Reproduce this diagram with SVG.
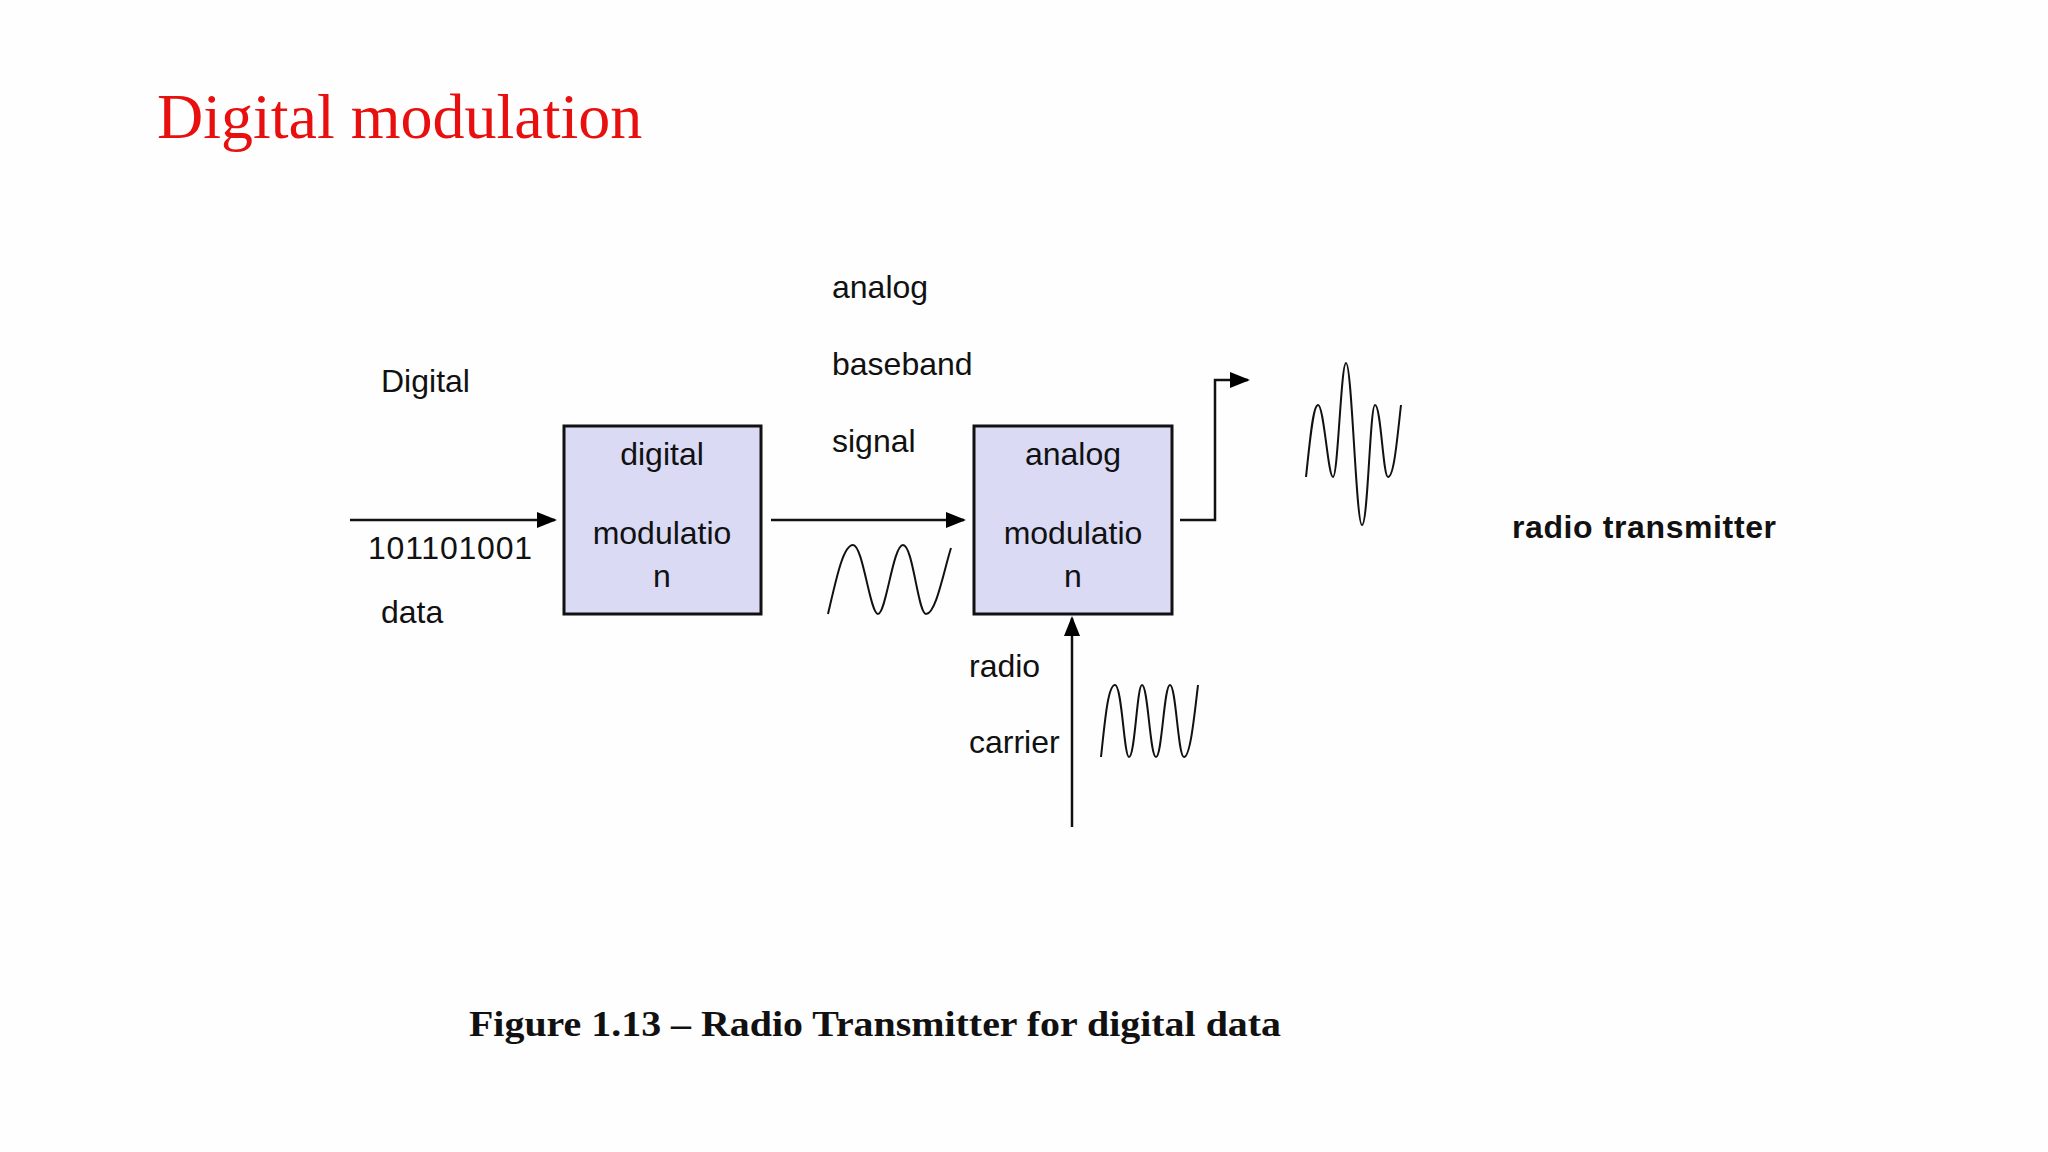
<svg xmlns="http://www.w3.org/2000/svg" width="2048" height="1152" viewBox="0 0 2048 1152">
<defs>
<style>
.t{font-family:"Liberation Sans",Arial,sans-serif;font-size:32px;fill:#111}
.c{text-anchor:middle}
.box{fill:#dadaf5;stroke:#111;stroke-width:3}
.ln{fill:none;stroke:#111;stroke-width:2.5}
.w{fill:none;stroke:#111;stroke-width:2}
</style>
<marker id="ahb" markerWidth="20" markerHeight="20" refX="18" refY="10" orient="auto" markerUnits="userSpaceOnUse" viewBox="0 0 20 20"><path d="M0,2 L20,10 L0,18 z" fill="#000"/></marker>
</defs>
<rect width="2048" height="1152" fill="#fefefe"/>
<text x="157" y="138" font-family="Liberation Serif,serif" font-size="64" fill="#e8100f">Digital modulation</text>
<g id="connectors">
<line class="ln" x1="350" y1="520" x2="555" y2="520" marker-end="url(#ahb)"/>
<line class="ln" x1="771" y1="520" x2="964" y2="520" marker-end="url(#ahb)"/>
<polyline class="ln" points="1180,520 1215,520 1215,380 1248,380" marker-end="url(#ahb)"/>
<line class="ln" x1="1072" y1="827" x2="1072" y2="618" marker-end="url(#ahb)"/>
</g>
<g id="digital-modulation">
<rect class="box" x="564" y="426" width="197" height="188"/>
<text class="t c" x="662" y="465">digital</text>
<text class="t c" x="662" y="544">modulatio</text>
<text class="t c" x="662" y="587">n</text>
</g>
<g id="analog-modulation">
<rect class="box" x="974" y="426" width="198" height="188"/>
<text class="t c" x="1073" y="465">analog</text>
<text class="t c" x="1073" y="544">modulatio</text>
<text class="t c" x="1073" y="587">n</text>
</g>
<g id="labels">
<text class="t" x="381" y="392">Digital</text>
<text class="t" x="368" y="559" textLength="164">101101001</text>
<text class="t" x="381" y="623">data</text>
<text class="t" x="832" y="298">analog</text>
<text class="t" x="832" y="375">baseband</text>
<text class="t" x="832" y="452">signal</text>
<text class="t" x="969" y="677">radio</text>
<text class="t" x="969" y="753">carrier</text>
<text class="t" x="1512" y="538" font-weight="bold" textLength="264">radio transmitter</text>
</g>
<g id="waves">
<path class="w" d="M828,614 C836,580 843,545 853,545 C863,545 870,614 878,614 C886,614 893,545 903,545 C913,545 918,614 926,614 C936,614 944,570 951,548"/>
<path class="w" d="M1101,757 C1105,720 1108,685 1115,685 C1122,685 1124,757 1129,757 C1135,757 1137,685 1142,685 C1148,685 1150,757 1156,757 C1162,757 1164,685 1170,685 C1176,685 1178,757 1184,757 C1190,757 1194,720 1198,685"/>
<path class="w" d="M1306,477 C1310,440 1313,405 1318,405 C1324,405 1328,477 1333,477 C1338,477 1341,363 1346,363 C1352,363 1356,525 1362,525 C1368,525 1370,405 1375,405 C1381,405 1383,477 1388,477 C1394,477 1397,440 1401,405"/>
</g>
<text x="469" y="1036" font-family="Liberation Serif,serif" font-weight="bold" font-size="36" fill="#111" textLength="812" lengthAdjust="spacingAndGlyphs">Figure 1.13 – Radio Transmitter for digital data</text>
</svg>
